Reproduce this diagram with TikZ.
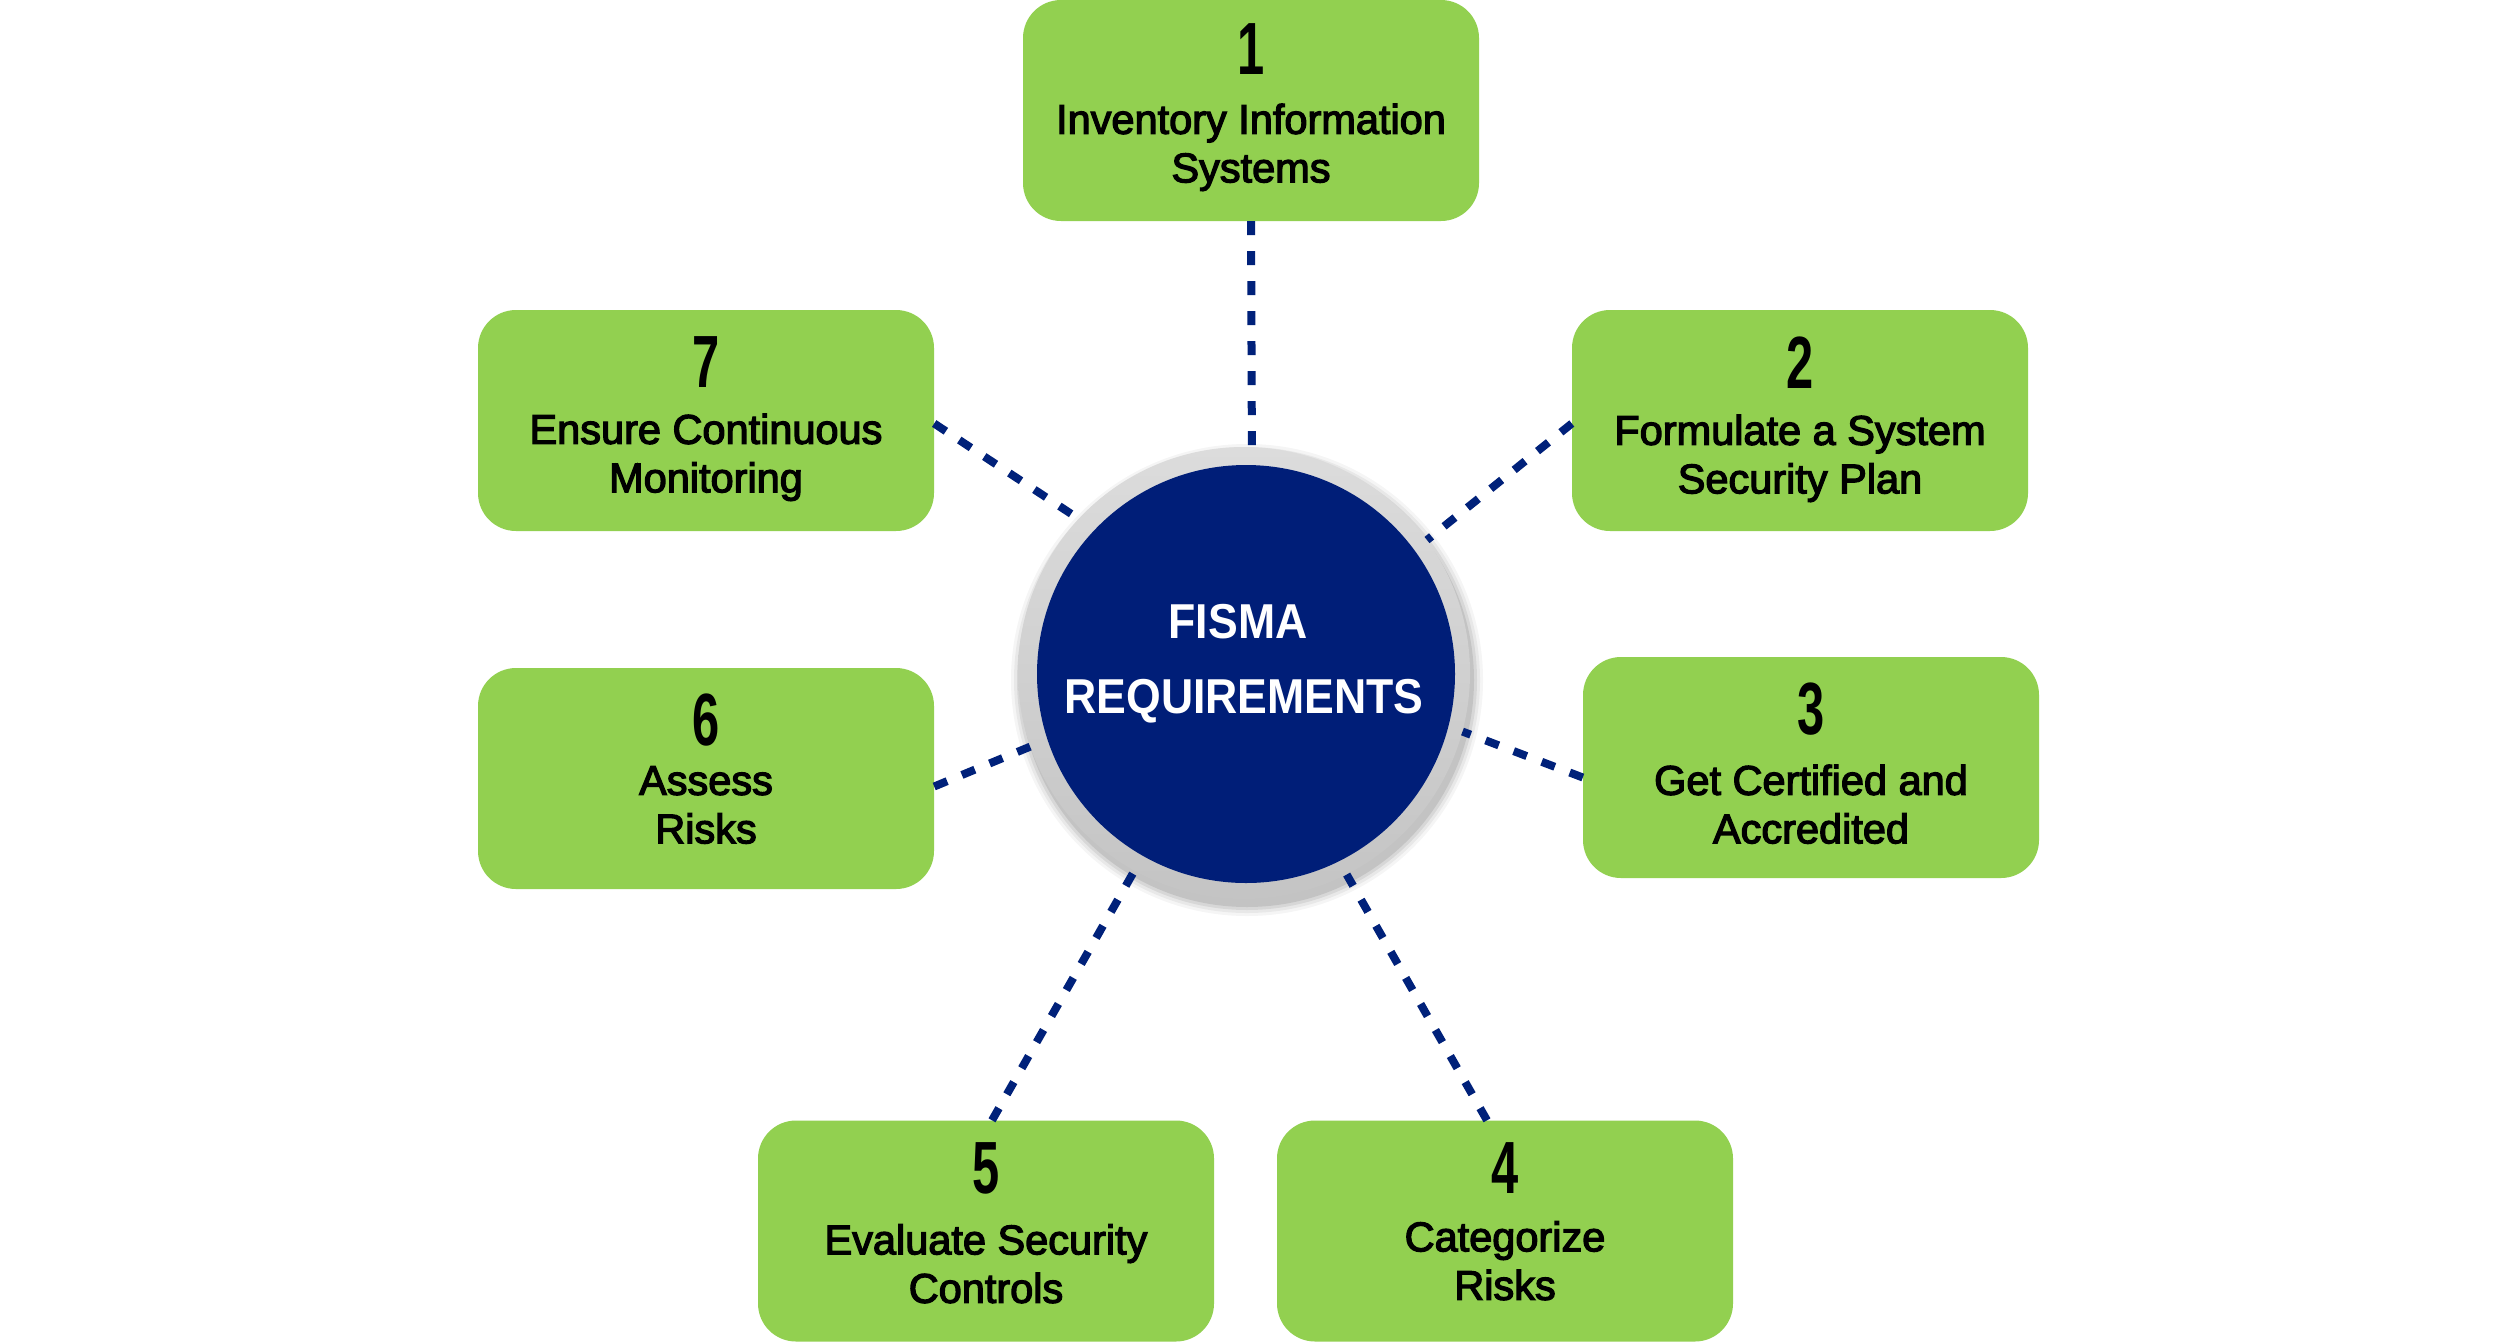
\documentclass[tikz,border=0pt]{standalone}
\usepackage{fontspec}
\setmainfont{Liberation Sans}
\newfontfamily\boxfont{Liberation Sans}[FakeBold=3]
\newfontfamily\numfont{Liberation Sans}[FakeStretch=0.66]
\newfontfamily\circfont{Liberation Sans}[FakeStretch=0.91]
\definecolor{boxgreen}{HTML}{92D050}
\definecolor{navy}{HTML}{001E78}
\definecolor{dashnavy}{HTML}{00217A}
\definecolor{ringtop}{HTML}{DCDCDC}
\definecolor{ringbot}{HTML}{C4C4C4}
% #1 name, #2 x, #3 y, #4 number, #5 line 1, #6 line 2, #7 number offset, #8 baseline offset
\newcommand\mkstep[8]{%
  \node[gbox] (#1) at (#2,#3) {};
  \node[numtxt] (#1n) at ([yshift=-#7pt]#1.north) {#4};
  \node[boxtxt, anchor=base] (#1a) at ([yshift=-#8pt]#1.north) {#5};
  \node[boxtxt, anchor=base] (#1b) at ([yshift=-#8pt-48.5pt]#1.north) {#6};
}
\begin{document}
\begin{tikzpicture}[x=1pt, y=-1pt,
  gbox/.style={fill=boxgreen, rounded corners=38pt, minimum width=456pt, minimum height=221pt, inner sep=0pt},
  numtxt/.style={inner sep=0pt, font=\numfont\bfseries\fontsize{74pt}{74pt}\selectfont},
  boxtxt/.style={inner sep=0pt, font=\boxfont\fontsize{41.5pt}{48pt}\selectfont},
  circtxt/.style={inner sep=0pt, text=white, font=\circfont\bfseries\fontsize{49pt}{49pt}\selectfont},
  conn/.style={draw=dashnavy, line width=8pt, dash pattern=on 14pt off 16pt}]
\useasboundingbox (0,0) rectangle (2519,1342);
\fill[white] (0,0) rectangle (2519,1342);
% shadow of the ring
\foreach \r/\o in {236/0.04, 233/0.05, 230/0.07, 227/0.09}
  \fill[black, opacity=\o] (1247,680) circle[radius=\r];
\node[circle, minimum size=452pt, inner sep=0pt, top color=ringtop, bottom color=ringbot] (ring) at (1244,673) {};
\node[circle, minimum size=418pt, inner sep=0pt, fill=navy] (core) at (1246,674) {};
\node[circtxt, anchor=base] (ct1) at (1238,638) {FISMA};
\node[circtxt, anchor=base] (ct2) at (1244,713) {REQUIREMENTS};
% boxes
\mkstep{b1}{1251}{110.5}{1}{Inventory Information}{Systems}{49}{134}
\mkstep{b2}{1800}{420.5}{2}{Formulate a System}{Security Plan}{52.5}{135}
\mkstep{b3}{1811}{767.5}{3}{Get Certified and}{Accredited}{52.5}{138}
\mkstep{b4}{1505}{1231}{4}{Categorize}{Risks}{48}{131}
\mkstep{b5}{986}{1231}{5}{Evaluate Security}{Controls}{48.5}{134}
\mkstep{b6}{706}{778.5}{6}{Assess}{Risks}{52.5}{127}
\mkstep{b7}{706}{420.5}{7}{Ensure Continuous}{Monitoring}{52.5}{134}
% connectors
\draw[conn] (b1.south) -- (ring.88);
\draw[conn] ([yshift=-3pt]b2.west) -- (ring.36);
\draw[conn] ([yshift=-10pt]b3.west) -- (ring.-15);
\draw[conn] ([xshift=-18pt]b4.north) -- (ring.-63);
\draw[conn] ([xshift=6pt]b5.north) -- (ring.-119);
\draw[conn] ([yshift=-8pt]b6.east) -- (ring.-161);
\draw[conn] ([yshift=-3pt]b7.east) -- (ring.137);
\end{tikzpicture}
\end{document}
